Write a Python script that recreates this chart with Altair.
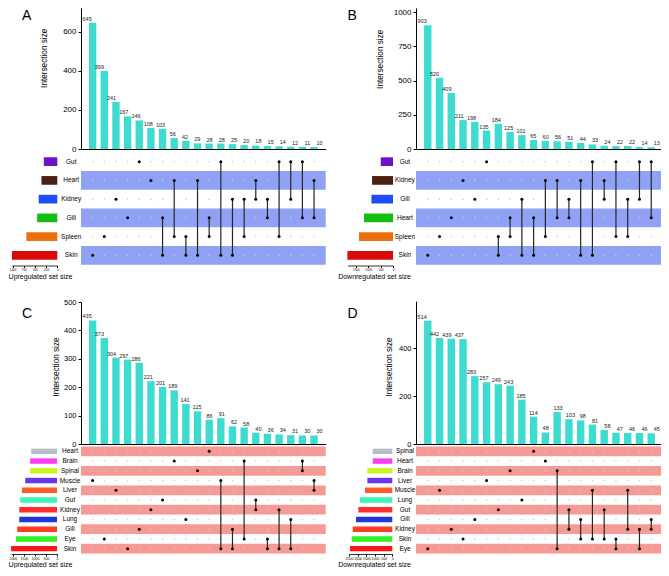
import altair as alt
import pandas as pd

FONT = "Liberation Sans"
BAR_COLOR = "#3ddbd0"
W, H, M = 653, 560, 8

# ---------------- Panel A: upregulated, 6 tissues ----------------
A_sets = ["Gut", "Heart", "Kidney", "Gill", "Spleen", "Skin"]
A_set_sizes = [302, 354, 415, 451, 692, 1015]
A_sizes = [645, 399, 241, 167, 146, 108, 103, 56, 42, 29, 28, 28, 25, 20, 18, 15, 14, 12, 11, 10]
A_members = [["Skin"], ["Spleen"], ["Kidney"], ["Gill"], ["Gut"], ["Heart"],
             ["Gill", "Skin"], ["Heart", "Spleen"], ["Spleen", "Skin"], ["Heart", "Skin"],
             ["Gill", "Spleen"], ["Gut", "Skin"], ["Kidney", "Skin"], ["Kidney", "Spleen"],
             ["Heart", "Kidney"], ["Kidney", "Gill"], ["Gut", "Spleen"], ["Gut", "Kidney"],
             ["Gut", "Gill"], ["Heart", "Gill"]]

# ---------------- Panel B: downregulated, 6 tissues ----------------
B_sets = ["Gut", "Kidney", "Gill", "Heart", "Spleen", "Skin"]
B_set_sizes = [495, 845, 870, 1170, 1370, 1840]
B_sizes = [903, 520, 409, 211, 198, 135, 184, 125, 101, 65, 60, 56, 51, 44, 33, 24, 22, 22, 14, 13]
B_members = [["Skin"], ["Spleen"], ["Heart"], ["Kidney"], ["Gill"], ["Gut"],
             ["Spleen", "Skin"], ["Heart", "Spleen"], ["Gill", "Skin"], ["Heart", "Skin"],
             ["Kidney", "Spleen"], ["Kidney", "Heart"], ["Gill", "Heart"], ["Kidney", "Skin"],
             ["Gut", "Skin"], ["Kidney", "Gill"], ["Gut", "Spleen"], ["Gill", "Spleen"],
             ["Gut", "Gill"], ["Gut", "Heart"]]

# ---------------- Panel C: upregulated, 11 tissues ----------------
C_sets = ["Heart", "Brain", "Spinal", "Muscle", "Liver", "Gut", "Kidney", "Lung", "Gill", "Eye", "Skin"]
C_set_sizes = [1170, 1216, 1216, 1440, 1590, 1667, 1710, 1710, 1800, 1860, 2080]
C_sizes = [435, 373, 304, 297, 286, 221, 201, 189, 141, 115, 86, 91, 62, 58, 40, 36, 34, 31, 30, 30]
C_members = [["Muscle"], ["Eye"], ["Liver"], ["Skin"], ["Gill"], ["Kidney"], ["Gut"], ["Brain"],
             ["Lung"], ["Spinal"], ["Heart"], ["Muscle", "Skin"], ["Gill", "Skin"], ["Brain", "Eye"],
             ["Gut", "Kidney"], ["Eye", "Skin"], ["Kidney", "Skin"], ["Lung", "Skin"],
             ["Brain", "Spinal"], ["Muscle", "Liver"]]

# ---------------- Panel D: downregulated, 11 tissues ----------------
D_sets = ["Spinal", "Heart", "Brain", "Liver", "Muscle", "Lung", "Gut", "Gill", "Kidney", "Skin", "Eye"]
D_set_sizes = [1130, 1130, 1440, 1440, 1575, 1865, 1960, 2095, 2285, 2345, 2440]
D_sizes = [514, 442, 439, 437, 283, 257, 249, 243, 185, 114, 48, 133, 103, 98, 81, 58, 47, 46, 46, 45]
D_members = [["Eye"], ["Muscle"], ["Kidney"], ["Skin"], ["Gill"], ["Liver"], ["Gut"], ["Brain"],
             ["Lung"], ["Spinal"], ["Heart"], ["Brain", "Eye"], ["Gut", "Kidney"], ["Gill", "Skin"],
             ["Muscle", "Skin"], ["Gut", "Skin"], ["Skin", "Eye"], ["Muscle", "Kidney"],
             ["Kidney", "Eye"], ["Gill", "Kidney"]]

PAL6 = ["#6d12c9", "#4b2011", "#1d4dfb", "#14bf14", "#e8710d", "#d80b0b"]
PAL11 = ["#b5bfc5", "#ff3cf2", "#cdf51f", "#6b35ec", "#ff5a27", "#3ef4b2",
         "#ff2e2e", "#1f38dc", "#ff3d20", "#34ef1f", "#ff1515"]
STRIPE_BLUE = "#8fa2f6"
STRIPE_PINK = "#f69a96"
GRAY_DOT = "#c8d0d0"


def p(v):
    return v - M


def make_panel(sets, set_sizes, sizes, members, palette, stripe, stripe_odd, g):
    n_col = len(sizes)
    n_row = len(sets)
    cols = [f"c{i + 1:02d}" for i in range(n_col)]
    layers = []

    # --- intersection bars ---
    bars = pd.DataFrame({"col": cols, "size": sizes})
    xband = alt.Scale(domain=cols, range=[p(g["x0"]), p(g["x1"])],
                      paddingInner=0.37, paddingOuter=0.685)
    ybar = alt.Scale(domain=g["ydom"], range=[p(g["base"]), p(g["top"])], nice=False)
    layers.append(
        alt.Chart(bars).mark_bar(color=BAR_COLOR).encode(
            x=alt.X("col:N", scale=xband, sort=cols,
                    axis=alt.Axis(orient="bottom", offset=p(g["base"]) - H, labels=False,
                                  ticks=False, domainColor="black", domainWidth=1, grid=False,
                                  title=g["letter"], titleX=p(g["lx"]), titleY=g["ly"] - g["base"],
                                  titleAngle=0, titleFont=FONT, titleFontSize=14,
                                  titleFontWeight="normal", titleAlign="left",
                                  titleBaseline="alphabetic", titleColor="black")),
            y=alt.Y("size:Q", scale=ybar,
                    axis=alt.Axis(orient="left", offset=-p(g["x0"]), values=g["yticks"],
                                  format="d", grid=False, tickSize=3, tickColor="black",
                                  domainColor="black", domainWidth=1, labelPadding=2,
                                  labelFont=FONT, labelFontSize=g["yfont"], labelColor="black",
                                  title="Intersection size", titleFont=FONT, titleFontSize=8.2,
                                  titleFontWeight="normal", titleColor="black",
                                  titleX=g["ytx"] - g["x0"], titleY=p(g["yty"]),
                                  titleAlign="center", titleBaseline="middle", titleAngle=270)),
        )
    )
    layers.append(
        alt.Chart(bars).mark_text(font=FONT, fontSize=5.5, dy=-2, baseline="alphabetic",
                                  color="#222222").encode(
            x=alt.X("col:N", scale=xband, sort=cols, axis=None),
            y=alt.Y("size:Q", scale=ybar, axis=None),
            text="size:Q",
        )
    )

    # --- matrix stripes (with set names as axis labels) ---
    stripe_rows = [s for i, s in enumerate(sets) if (i % 2 == 1) == stripe_odd]
    sdf = pd.DataFrame({"set": stripe_rows, "lo": 0, "hi": 1})
    yrow_band = alt.Scale(domain=sets, range=[p(g["r0"]), p(g["r1"])],
                          paddingInner=0, paddingOuter=0)
    layers.append(
        alt.Chart(sdf).mark_rect(color=stripe).encode(
            x=alt.X("lo:Q", scale=alt.Scale(domain=[0, 1], range=[p(g["x0"]), p(g["sx1"])]),
                    axis=None),
            x2="hi:Q",
            y=alt.Y("set:N", scale=yrow_band, sort=sets,
                    axis=alt.Axis(orient="left", offset=-p(g["x0"]), ticks=False, tickSize=0,
                                  domain=False, grid=False, labelAlign="center",
                                  labelPadding=g["lab_pad"], labelFont=FONT, labelFontSize=6.5,
                                  labelColor="black", labelOverlap=False, title=None)),
        )
    )

    # --- matrix dots and connecting lines (index positions) ---
    xq = alt.Scale(domain=[-1, n_col], range=[p(g["x0"]), p(g["x1"])], nice=False, zero=False)
    yq = alt.Scale(domain=[-0.5, n_row - 0.5], range=[p(g["r0"]), p(g["r1"])], nice=False,
                   zero=False)
    grid = pd.DataFrame([(ci, ri) for ci in range(n_col) for ri in range(n_row)],
                        columns=["ci", "ri"])
    layers.append(
        alt.Chart(grid).mark_circle(size=2.6, color=GRAY_DOT, opacity=1).encode(
            x=alt.X("ci:Q", scale=xq, axis=None),
            y=alt.Y("ri:Q", scale=yq, axis=None),
        )
    )
    lines = []
    active = []
    for ci, mem in enumerate(members):
        idx = sorted(sets.index(s) for s in mem)
        for r in idx:
            active.append((ci, r))
        if len(idx) > 1:
            lines.append((ci, idx[0], idx[-1]))
    ldf = pd.DataFrame(lines, columns=["ci", "r1", "r2"])
    adf = pd.DataFrame(active, columns=["ci", "ri"])
    layers.append(
        alt.Chart(ldf).mark_rule(color="#262626", strokeWidth=1.2).encode(
            x=alt.X("ci:Q", scale=xq, axis=None),
            y=alt.Y("r1:Q", scale=yq, axis=None),
            y2="r2:Q",
        )
    )
    layers.append(
        alt.Chart(adf).mark_circle(size=9, color="black", opacity=1).encode(
            x=alt.X("ci:Q", scale=xq, axis=None),
            y=alt.Y("ri:Q", scale=yq, axis=None),
        )
    )

    # --- set size bars ---
    ssdf = pd.DataFrame({"set": sets, "n": set_sizes})
    pi = g["pi"]
    layers.append(
        alt.Chart(ssdf).mark_bar().encode(
            x=alt.X("n:Q", scale=alt.Scale(domain=g["ssdom"], range=[p(g["ssr"][0]), p(g["ssr"][1])],
                                           nice=False),
                    axis=alt.Axis(orient="bottom", offset=p(g["ssy"]) - H, values=g["ssticks"],
                                  format="d", grid=False, tickSize=2, tickColor="black",
                                  domainColor="black", domainWidth=0.8, labelPadding=0.5,
                                  labelFont=FONT, labelFontSize=g["ssfont"], labelColor="black",
                                  labelOverlap=False, labelFlush=False,
                                  title=g["sstitle"], titleFont=FONT, titleFontSize=7,
                                  titleFontWeight="normal", titleColor="black",
                                  titleX=p(g["sstx"]), titleY=g["ssty"] - g["ssy"],
                                  titleAlign="center", titleBaseline="middle")),
            y=alt.Y("set:N", sort=sets,
                    scale=alt.Scale(domain=sets, range=[p(g["r0"]), p(g["r1"])],
                                    paddingInner=pi, paddingOuter=pi / 2),
                    axis=None),
            color=alt.Color("set:N", scale=alt.Scale(domain=sets, range=palette), legend=None),
        )
    )
    return layers


GA = dict(letter="A", lx=21.5, ly=19.5, x0=81, x1=325.7, sx1=325.7, base=149, top=8,
          ydom=[0, 721], yticks=[0, 200, 400, 600], yfont=8, ytx=44.2, yty=57.8,
          r0=152.3, r1=264.7, lab_pad=10.3, pi=0.535, ssdom=[0, 1020], ssr=[57.3, 11.7],
          ssticks=[0, 250, 500, 750, 1000], ssfont=3, ssy=265.5,
          sstitle="Upregulated set size", sstx=40, ssty=276.7)
GB = dict(letter="B", lx=347, ly=19.5, x0=416, x1=663, sx1=668, base=149, top=8,
          ydom=[0, 1030], yticks=[0, 250, 500, 750, 1000], yfont=8, ytx=380.5, yty=58.8,
          r0=152.3, r1=264.7, lab_pad=11.6, pi=0.535, ssdom=[0, 1840], ssr=[393, 347.4],
          ssticks=[0, 500, 1000, 1500], ssfont=3, ssy=265.5,
          sstitle="Downregulated set size", sstx=374, ssty=276.7)
GC = dict(letter="C", lx=21.5, ly=317, x0=81, x1=325.7, sx1=325.7, base=444, top=302,
          ydom=[0, 500], yticks=[0, 100, 200, 300, 400, 500], yfont=7.5, ytx=56.3, yty=366.5,
          r0=446.5, r1=553.5, lab_pad=11.5, pi=0.44, ssdom=[0, 2080], ssr=[57, 11.1],
          ssticks=[0, 500, 1000, 1500, 2000], ssfont=3.5, ssy=554,
          sstitle="Upregulated set size", sstx=40, ssty=564.5)
GD = dict(letter="D", lx=347, ly=317, x0=416, x1=663, sx1=668, base=444, top=301.2,
          ydom=[0, 595], yticks=[0, 200, 400], yfont=7.5, ytx=389.5, yty=366.5,
          r0=446.5, r1=553.5, lab_pad=11.5, pi=0.44, ssdom=[0, 2500], ssr=[392.3, 349],
          ssticks=[0, 500, 1000, 1500, 2000, 2500], ssfont=3.5, ssy=554,
          sstitle="Downregulated set size", sstx=374, ssty=564.5)

all_layers = []
all_layers += make_panel(A_sets, A_set_sizes, A_sizes, A_members, PAL6, STRIPE_BLUE, True, GA)
all_layers += make_panel(B_sets, B_set_sizes, B_sizes, B_members, PAL6, STRIPE_BLUE, True, GB)
all_layers += make_panel(C_sets, C_set_sizes, C_sizes, C_members, PAL11, STRIPE_PINK, False, GC)
all_layers += make_panel(D_sets, D_set_sizes, D_sizes, D_members, PAL11, STRIPE_PINK, False, GD)

chart = (
    alt.layer(*all_layers)
    .resolve_scale(x="independent", y="independent", color="independent")
    .properties(width=W, height=H, padding=0, autosize=alt.AutoSizeParams(type="none"))
    .configure_view(stroke=None)
    .configure_axis(grid=False)
)

chart.save("out.html", embed_options={"renderer": "svg", "actions": False})
